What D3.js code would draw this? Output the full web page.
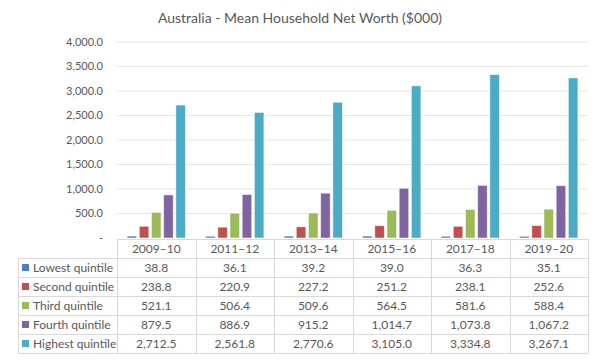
<!DOCTYPE html>
<html lang="en">
<head>
    <meta charset="UTF-8">
    <title>Australia - Mean Household Net Worth</title>
    <script src="https://cdn.jsdelivr.net/npm/d3@7"></script>
    <style>
        body { margin: 0; background: #fff; }
        text { font-family: Lato, "Open Sans", sans-serif; fill: #595959; }
    </style>
</head>
<body>
    <svg width="600" height="360" id="mainsvg"></svg>
    <script>
        const years = ['2009–10', '2011–12', '2013–14', '2015–16', '2017–18', '2019–20'];
        const seriesNames = ['Lowest quintile', 'Second quintile', 'Third quintile', 'Fourth quintile', 'Highest quintile'];
        const lowest = [38.8, 36.1, 39.2, 39.0, 36.3, 35.1];
        const second = [238.8, 220.9, 227.2, 251.2, 238.1, 252.6];
        const third = [521.1, 506.4, 509.6, 564.5, 581.6, 588.4];
        const fourth = [879.5, 886.9, 915.2, 1014.7, 1073.8, 1067.2];
        const highest = [2712.5, 2561.8, 2770.6, 3105.0, 3334.8, 3267.1];
        const yTicks = [0, 500, 1000, 1500, 2000, 2500, 3000, 3500, 4000];
        const colors = ['#4f81bd', '#c0504d', '#9bbb59', '#8064a2', '#4bacc6'];

        const series = [lowest, second, third, fourth, highest];

        const svg = d3.select('#mainsvg');
        const plot = { left: 117, right: 588, top: 42, bottom: 238 };
        const tableLeft = 18;

        const x = d3.scaleBand().domain(years).range([plot.left, plot.right]);
        const xs = d3.scaleBand().domain(d3.range(5)).range([0, x.bandwidth()])
            .paddingInner(0.22).paddingOuter(0.83);
        const y = d3.scaleLinear().domain([0, 4000]).range([plot.bottom, plot.top]);

        // title
        svg.append('text')
            .attr('x', 300).attr('y', 23)
            .attr('text-anchor', 'middle')
            .attr('font-size', 14)
            .text('Australia - Mean Household Net Worth ($000)');

        // gridlines + y labels
        const fmt = d3.format(',.1f');
        svg.append('g').selectAll('line').data(yTicks.filter(d => d > 0)).join('line')
            .attr('x1', plot.left).attr('x2', plot.right)
            .attr('y1', d => y(d)).attr('y2', d => y(d))
            .attr('stroke', '#e6e6e6').attr('stroke-width', 1);

        svg.append('g').selectAll('text').data(yTicks).join('text')
            .attr('x', 103).attr('y', d => y(d))
            .attr('dy', '0.35em')
            .attr('text-anchor', 'end')
            .attr('font-size', 11)
            .text(d => d === 0 ? '-' : fmt(d));

        // bars
        const groups = svg.append('g').selectAll('g').data(years).join('g')
            .attr('transform', d => `translate(${x(d)},0)`);

        groups.selectAll('rect')
            .data((d, i) => series.map((s, k) => ({ k: k, v: s[i] })))
            .join('rect')
            .attr('x', d => xs(d.k))
            .attr('width', xs.bandwidth())
            .attr('y', d => y(d.v))
            .attr('height', d => y(0) - y(d.v))
            .attr('fill', d => colors[d.k])
            .attr('stroke', '#ffffff')
            .attr('stroke-opacity', 0.6)
            .attr('stroke-width', 0.8);

        // data table
        const rowTop = 239;
        const rowH = 19;
        const rows = d3.scaleBand().domain(d3.range(6)).range([rowTop, rowTop + rowH * 6]);
        const grid = svg.append('g').attr('stroke', '#d9d9d9').attr('stroke-width', 1);
        const tableBottom = rowTop + rowH * 6;

        // horizontal lines
        grid.append('line')
            .attr('x1', plot.left).attr('x2', plot.right)
            .attr('y1', rowTop + 0.5).attr('y2', rowTop + 0.5);
        d3.range(1, 7).forEach(r => {
            grid.append('line')
                .attr('x1', tableLeft).attr('x2', plot.right)
                .attr('y1', rowTop + r * rowH + 0.5).attr('y2', rowTop + r * rowH + 0.5);
        });
        // vertical lines
        grid.append('line')
            .attr('x1', tableLeft + 0.5).attr('x2', tableLeft + 0.5)
            .attr('y1', rowTop + rowH).attr('y2', tableBottom);
        years.forEach(yr => {
            grid.append('line')
                .attr('x1', Math.round(x(yr)) + 0.5).attr('x2', Math.round(x(yr)) + 0.5)
                .attr('y1', rowTop).attr('y2', tableBottom);
        });
        grid.append('line')
            .attr('x1', plot.right + 0.5).attr('x2', plot.right + 0.5)
            .attr('y1', rowTop).attr('y2', tableBottom);

        // header
        svg.append('g').selectAll('text').data(years).join('text')
            .attr('x', d => x(d) + x.bandwidth() / 2)
            .attr('y', rows(0) + rowH / 2)
            .attr('dy', '0.35em')
            .attr('text-anchor', 'middle')
            .attr('font-size', 12)
            .text(d => d);

        // series rows
        seriesNames.forEach((name, k) => {
            const ry = rows(k + 1) + rowH / 2;
            svg.append('rect')
                .attr('x', 22).attr('y', ry - 3.5)
                .attr('width', 7).attr('height', 7)
                .attr('fill', colors[k]);
            svg.append('text')
                .attr('x', 33).attr('y', ry).attr('dy', '0.35em')
                .attr('font-size', 12)
                .text(name);
            svg.append('g').selectAll('text').data(series[k]).join('text')
                .attr('x', (d, i) => x(years[i]) + x.bandwidth() / 2)
                .attr('y', ry).attr('dy', '0.35em')
                .attr('text-anchor', 'middle')
                .attr('font-size', 12)
                .text(d => fmt(d));
        });
    </script>
</body>
</html>
